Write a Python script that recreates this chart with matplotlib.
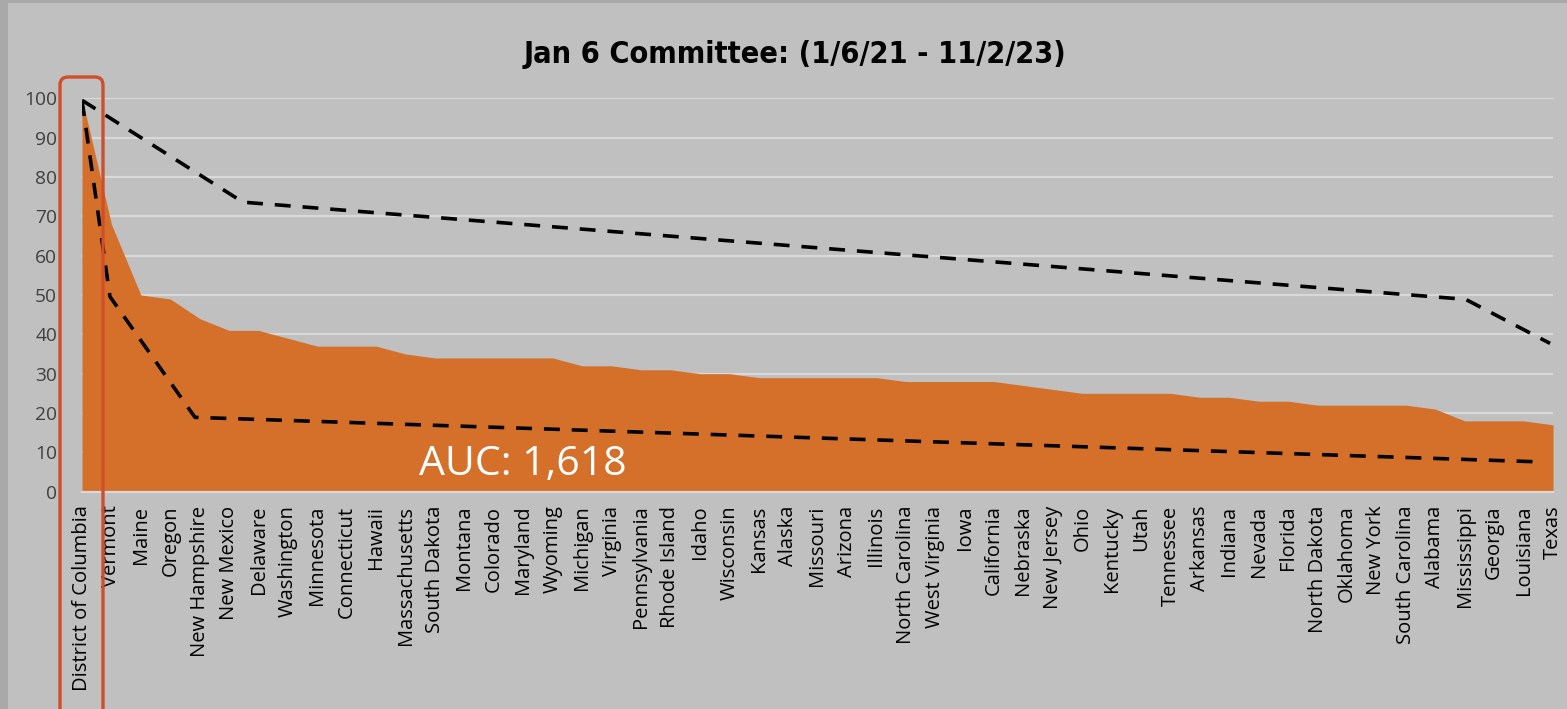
import matplotlib.pyplot as plt
from matplotlib.patches import FancyBboxPatch, Rectangle
import numpy as np

states = ['District of Columbia', 'Vermont', 'Maine', 'Oregon', 'New Hampshire',
          'New Mexico', 'Delaware', 'Washington', 'Minnesota', 'Connecticut',
          'Hawaii', 'Massachusetts', 'South Dakota', 'Montana', 'Colorado',
          'Maryland', 'Wyoming', 'Michigan', 'Virginia', 'Pennsylvania',
          'Rhode Island', 'Idaho', 'Wisconsin', 'Kansas', 'Alaska', 'Missouri',
          'Arizona', 'Illinois', 'North Carolina', 'West Virginia', 'Iowa',
          'California', 'Nebraska', 'New Jersey', 'Ohio', 'Kentucky', 'Utah',
          'Tennessee', 'Arkansas', 'Indiana', 'Nevada', 'Florida', 'North Dakota',
          'Oklahoma', 'New York', 'South Carolina', 'Alabama', 'Mississippi',
          'Georgia', 'Louisiana', 'Texas']
values = [100, 68, 50, 49, 44, 41, 41, 39, 37, 37, 37, 35, 34, 34, 34, 34, 34,
          32, 32, 31, 31, 30, 30, 29, 29, 29, 29, 29, 28, 28, 28, 28, 27, 26,
          25, 25, 25, 25, 24, 24, 23, 23, 22, 22, 22, 22, 21, 18, 18, 18, 17]

# hand drawn guide lines (x in category index units)
upper_x = [0, 5.47, 47.03, 49.9]
upper_y = [99.5, 73.6, 48.9, 37.7]
lower_x = [0, 0.95, 3.84, 49.46]
lower_y = [99.5, 49.6, 18.9, 7.6]

title = 'Jan 6 Committee: (1/6/21 - 11/2/23)'
auc_label = 'AUC: 1,618'

W, H = 1567, 709
fig = plt.figure(figsize=(W / 100, H / 100), dpi=100)
fig.patch.set_facecolor('#a9a9a9')
fig.patches.append(Rectangle((8 / W, 0), 1, 1 - 3 / H, transform=fig.transFigure,
                             facecolor='#c0c0c0', edgecolor='none', zorder=-5))

ax = fig.add_axes([82 / W, 1 - 491.7 / H, (1553 - 82) / W, (491.7 - 98.3) / H])
ax.set_facecolor('none')
ax.set_zorder(1)

x = np.arange(len(states))
ax.fill_between(x, values, 0, color='#d5702b', linewidth=0, zorder=2)
ax.plot(upper_x, upper_y, color='black', lw=2.6, dashes=(4.4, 3.3), zorder=3)
ax.plot(lower_x, lower_y, color='black', lw=2.6, dashes=(4.4, 3.3), zorder=3)

ax.set_xlim(0, len(states) - 1)
ax.set_ylim(0, 100)
ax.set_yticks(range(0, 101, 10))
ax.yaxis.grid(True, color='#d9d9d9', lw=1.6, zorder=1)
ax.set_axisbelow(True)
for s in ['top', 'right', 'left']:
    ax.spines[s].set_visible(False)
ax.spines['bottom'].set_color('#d9d9d9')
ax.spines['bottom'].set_linewidth(1.6)

ax.set_xticks(x)
ax.set_xticklabels(states, rotation=90, fontsize=14.5, family=['Open Sans', 'DejaVu Sans'],
                   color='black')
ax.tick_params(axis='x', length=0, pad=10)
ax.tick_params(axis='y', length=0, pad=18, labelsize=13.8, labelcolor='#404040')
for lab in ax.get_yticklabels():
    lab.set_family(['Open Sans', 'DejaVu Sans'])

ax.text(15, 6.8, auc_label, color='white', fontsize=29.5, ha='center', va='center',
        family=['Open Sans', 'DejaVu Sans'], zorder=4)

fig.text(795 / W, 1 - 63 / H, title, ha='center', va='baseline', fontsize=22,
         fontweight='bold', fontstretch='condensed', family=['DejaVu Sans'])

# highlight box around the first category (inch coords)
fig.patches.append(FancyBboxPatch((0.60, -0.2), 0.43, (709 - 77) / 100 + 0.2,
                                  boxstyle='round,pad=0,rounding_size=0.08',
                                  transform=fig.dpi_scale_trans, facecolor='none',
                                  edgecolor='#d24e2a', lw=2.4, zorder=5))

fig.savefig('out.png', dpi=100, facecolor=fig.get_facecolor())
